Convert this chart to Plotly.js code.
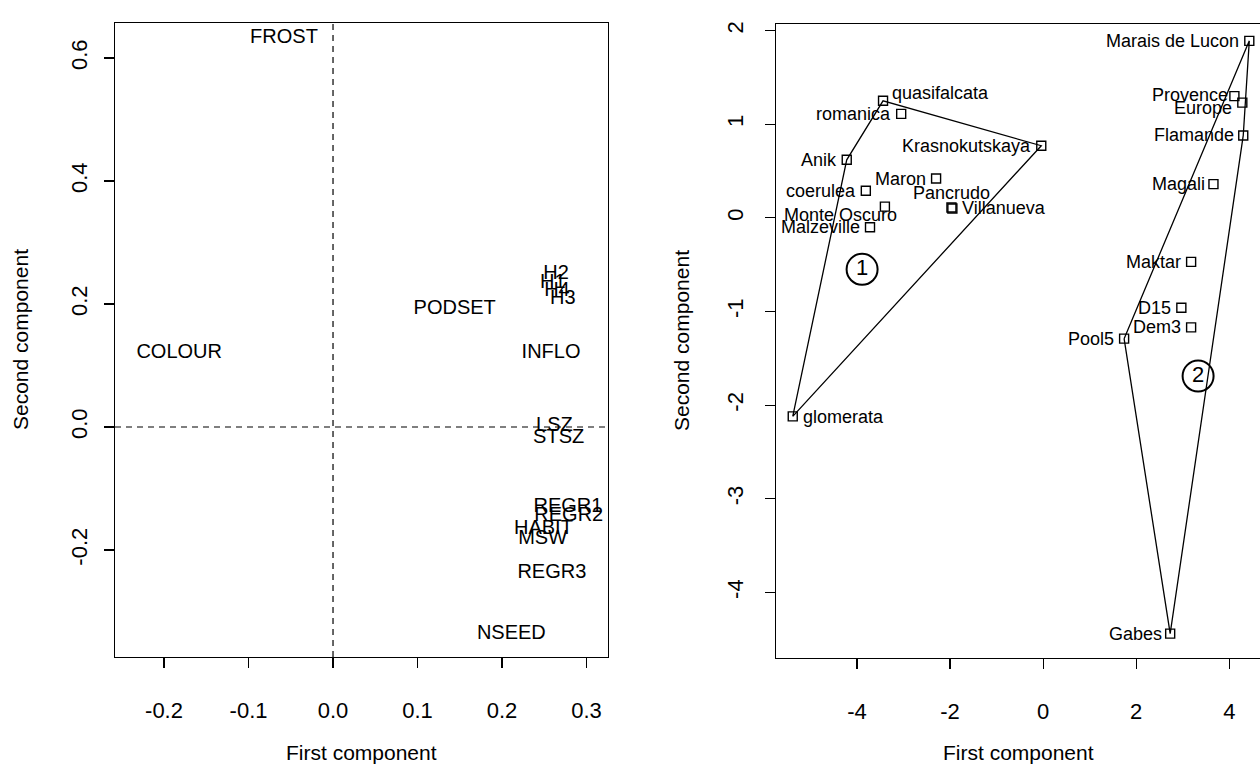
<!DOCTYPE html>
<html><head><meta charset="utf-8">
<script src="https://cdn.plot.ly/plotly-3.0.1.min.js"></script>
<style>html,body{margin:0;padding:0;background:#fff}#chart{width:1260px;height:764px}</style>
</head><body><div id="chart"></div>
<script>
// ---- Left panel: variable loadings ----
const varNames = ['FROST','PODSET','COLOUR','INFLO','H2','H1','H4','H3','LSZ','STSZ','REGR1','REGR2','HABIT','MSW','REGR3','NSEED'];
const varX = [-0.058, 0.144, -0.182, 0.258, 0.264, 0.260, 0.265, 0.272, 0.262, 0.267, 0.278, 0.279, 0.249, 0.248, 0.259, 0.211];
const varY = [0.633, 0.192, 0.120, 0.120, 0.249, 0.234, 0.221, 0.208, 0.001, -0.018, -0.130, -0.145, -0.166, -0.182, -0.237, -0.337];

// ---- Right panel: cultivar scores ----
const cultivars = ['quasifalcata','romanica','Krasnokutskaya','Anik','Maron','coerulea','Pancrudo','Villanueva','Monte Oscuro','Malzeville','glomerata',
  'Marais de Lucon','Provence','Europe','Flamande','Magali','Maktar','D15','Dem3','Pool5','Gabes'];
const cultX = [-3.44, -3.05, -0.04, -4.22, -2.30, -3.81, -1.97, -1.95, -3.40, -3.72, -5.38,
  4.43, 4.11, 4.28, 4.30, 3.66, 3.18, 2.97, 3.18, 1.74, 2.73];
const cultY = [1.25, 1.11, 0.77, 0.62, 0.42, 0.29, 0.11, 0.10, 0.12, -0.10, -2.12,
  1.89, 1.30, 1.23, 0.88, 0.36, -0.47, -0.96, -1.17, -1.29, -4.44];
const cultGroup = [1,1,1,1,1,1,1,1,1,1,1, 2,2,2,2,2,2,2,2,2,2];
const groupIds = [1, 2];
const groupLabelX = [-3.89, 3.33];
const groupLabelY = [-0.55, -1.69];

// ---- Tick labels ----
const leftXTicks = [-0.2, -0.1, 0, 0.1, 0.2, 0.3];
const leftXTickText = ['-0.2', '-0.1', '0.0', '0.1', '0.2', '0.3'];
const leftYTicks = [-0.2, 0, 0.2, 0.4, 0.6];
const leftYTickText = ['-0.2', '0.0', '0.2', '0.4', '0.6'];
const rightXTicks = [-4, -2, 0, 2, 4];
const rightXTickText = ['-4', '-2', '0', '2', '4'];
const rightYTicks = [-4, -3, -2, -1, 0, 1, 2];
const rightYTickText = ['-4', '-3', '-2', '-1', '0', '1', '2'];

// ---- Label placement style (side of point, pixel shift x, pixel shift y) ----
const labelStyle = {
  'quasifalcata': ['right', 8, 8], 'romanica': ['left', -9, 0], 'Krasnokutskaya': ['left', -9, 0],
  'Anik': ['left', -9, 0], 'Maron': ['left', -9, 0], 'coerulea': ['left', -9, 0],
  'Pancrudo': ['center', 0, 15], 'Villanueva': ['right', 9, 0], 'Monte Oscuro': ['left', 13, -8],
  'Malzeville': ['left', -9, 0], 'glomerata': ['right', 9, -1],
  'Marais de Lucon': ['left', -9, 0], 'Provence': ['left', -5, 1], 'Europe': ['left', -9, -5],
  'Flamande': ['left', -8, 0], 'Magali': ['left', -7, 0], 'Maktar': ['left', -9, 0],
  'D15': ['left', -9, 0], 'Dem3': ['left', -9, 0], 'Pool5': ['left', -9, 0], 'Gabes': ['left', -7, 0]
};
const sideToAnchor = {left: 'right', right: 'left', center: 'center'};

const FONT = 'Liberation Sans, Arial, Helvetica, sans-serif';
const W = 1260, H = 764;

function hull(idx) {
  const pts = idx.map(i => [cultX[i], cultY[i]]).sort((a, b) => a[0] - b[0] || a[1] - b[1]);
  const cross = (o, a, b) => (a[0]-o[0])*(b[1]-o[1]) - (a[1]-o[1])*(b[0]-o[0]);
  const lower = [], upper = [];
  for (const p of pts) { while (lower.length >= 2 && cross(lower[lower.length-2], lower[lower.length-1], p) <= 0) lower.pop(); lower.push(p); }
  for (let i = pts.length - 1; i >= 0; i--) { const p = pts[i]; while (upper.length >= 2 && cross(upper[upper.length-2], upper[upper.length-1], p) <= 0) upper.pop(); upper.push(p); }
  upper.pop(); lower.pop();
  const h = lower.concat(upper); h.push(h[0]);
  return h;
}

const traces = [];
traces.push({
  type: 'scatter', mode: 'text', x: varX, y: varY, text: varNames,
  textposition: 'middle center', textfont: {family: FONT, size: 20, color: '#000'},
  xaxis: 'x', yaxis: 'y', hoverinfo: 'text', showlegend: false, cliponaxis: false
});

groupIds.forEach(g => {
  const idx = cultGroup.map((v, i) => v === g ? i : -1).filter(i => i >= 0);
  const h = hull(idx);
  traces.push({
    type: 'scatter', mode: 'lines', x: h.map(p => p[0]), y: h.map(p => p[1]),
    line: {color: '#000', width: 1.3}, xaxis: 'x2', yaxis: 'y2', hoverinfo: 'skip', showlegend: false
  });
});

traces.push({
  type: 'scatter', mode: 'markers', x: cultX, y: cultY, text: cultivars,
  marker: {symbol: 'square-open', size: 9, color: '#000', line: {width: 1.4, color: '#000'}},
  xaxis: 'x2', yaxis: 'y2', hoverinfo: 'text', showlegend: false, cliponaxis: false
});

traces.push({
  type: 'scatter', mode: 'markers+text', x: groupLabelX, y: groupLabelY, text: groupIds.map(String),
  textposition: 'middle center', textfont: {family: FONT, size: 22, color: '#000'},
  marker: {symbol: 'circle-open', size: 31, color: '#000', line: {width: 2, color: '#000'}},
  xaxis: 'x2', yaxis: 'y2', hoverinfo: 'skip', showlegend: false
});

const annotations = cultivars.map((name, i) => {
  const s = labelStyle[name];
  return {
    xref: 'x2', yref: 'y2', x: cultX[i], y: cultY[i], text: name, showarrow: false,
    xanchor: sideToAnchor[s[0]], yanchor: 'middle', xshift: s[1], yshift: s[2],
    font: {family: FONT, size: 18, color: '#000'}, borderpad: 0
  };
});

const titleFont = {family: FONT, size: 21, color: '#000'};
annotations.push(
  {xref: 'paper', yref: 'paper', x: (115 + 608) / 2 / W, y: (H - 752) / H, text: 'First component', showarrow: false, xanchor: 'center', yanchor: 'middle', font: titleFont},
  {xref: 'paper', yref: 'paper', x: (776 + 1260) / 2 / W, y: (H - 752) / H, text: 'First component', showarrow: false, xanchor: 'center', yanchor: 'middle', font: titleFont},
  {xref: 'paper', yref: 'paper', x: 20 / W, y: (H - 340) / H, text: 'Second component', textangle: -90, showarrow: false, xanchor: 'center', yanchor: 'middle', font: titleFont},
  {xref: 'paper', yref: 'paper', x: 681 / W, y: (H - 341) / H, text: 'Second component', textangle: -90, showarrow: false, xanchor: 'center', yanchor: 'middle', font: titleFont}
);

const tickFont = {family: FONT, size: 22, color: '#000'};
const axisBase = {
  showline: true, linecolor: '#000', linewidth: 1.3, ticks: 'outside', ticklen: 10, tickwidth: 1.2,
  tickcolor: '#000', tickfont: tickFont, showgrid: false, zeroline: false, tickmode: 'array', fixedrange: true
};

const layout = {
  width: W, height: H, margin: {l: 0, r: 0, t: 0, b: 0},
  paper_bgcolor: '#fff', plot_bgcolor: '#fff', showlegend: false,
  xaxis: Object.assign({}, axisBase, {domain: [115 / W, 608 / W], range: [-0.258, 0.3254], anchor: 'y', mirror: true,
    tickvals: leftXTicks, ticktext: leftXTickText, ticklabelstandoff: 23}),
  yaxis: Object.assign({}, axisBase, {domain: [(H - 657) / H, (H - 23) / H], range: [-0.374, 0.657], anchor: 'x', mirror: true,
    tickvals: leftYTicks, ticktext: leftYTickText, tickangle: -90, ticklabelstandoff: 8}),
  xaxis2: Object.assign({}, axisBase, {domain: [776 / W, 1], range: [-5.74, 4.66], anchor: 'y2', mirror: true,
    tickvals: rightXTicks, ticktext: rightXTickText, ticklabelstandoff: 23}),
  yaxis2: Object.assign({}, axisBase, {domain: [(H - 658) / H, (H - 24) / H], range: [-4.70, 2.07], anchor: 'x2', mirror: false,
    tickvals: rightYTicks, ticktext: rightYTickText, tickangle: -90, ticklabelstandoff: 13}),
  shapes: [
    {type: 'line', xref: 'x', yref: 'y domain', x0: 0, x1: 0, y0: 0, y1: 1, line: {color: '#000', width: 1.2, dash: '6px,5px'}},
    {type: 'line', xref: 'x domain', yref: 'y', x0: 0, x1: 1, y0: 0, y1: 0, line: {color: '#000', width: 1.2, dash: '6px,5px'}}
  ],
  annotations: annotations
};

Plotly.newPlot('chart', traces, layout, {displayModeBar: false, staticPlot: true});
</script>
</body></html>
